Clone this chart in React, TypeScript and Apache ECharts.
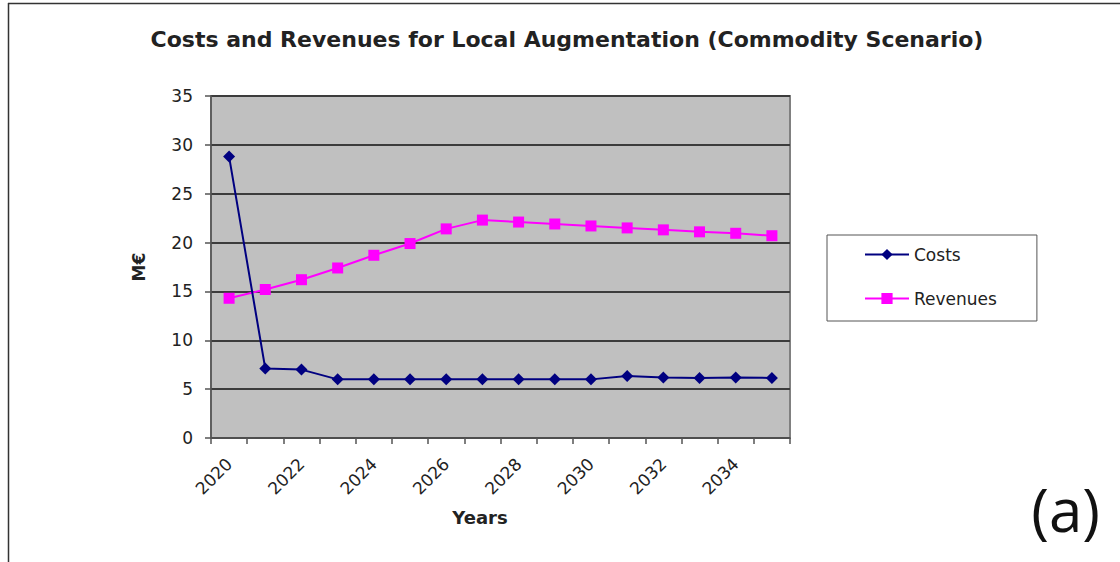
import React, { useEffect, useRef } from "react";
import * as echarts from "echarts";

const years = ["2020","2021","2022","2023","2024","2025","2026","2027","2028","2029","2030","2031","2032","2033","2034","2035"];
const costs = [28.8, 7.1, 7.0, 6.0, 6.0, 6.0, 6.0, 6.0, 6.0, 6.0, 6.0, 6.35, 6.2, 6.15, 6.2, 6.15];
const revenues = [14.3, 15.2, 16.2, 17.4, 18.7, 19.9, 21.4, 22.3, 22.1, 21.9, 21.7, 21.5, 21.3, 21.1, 20.95, 20.7];
const titleText = "Costs and Revenues for Local Augmentation (Commodity Scenario)";

const FONT = "'DejaVu Sans', sans-serif";

export default function App() {
  const ref = useRef<HTMLDivElement>(null);
  useEffect(() => {
    if (!ref.current) return;
    const chart = echarts.init(ref.current, undefined, { renderer: "svg" });
    chart.setOption({
      animation: false,
      backgroundColor: "#ffffff",
      textStyle: { fontFamily: FONT },
      title: {
        text: titleText,
        left: 562,
        top: 23,
        textAlign: "center",
        textStyle: { fontFamily: FONT, fontSize: 22, fontWeight: "bold", color: "#222" },
      },
      grid: {
        left: 211,
        top: 96,
        width: 579,
        height: 342,
        show: true,
        backgroundColor: "#c0c0c0",
        borderColor: "#808080",
        borderWidth: 2,
      },
      legend: {
        orient: "vertical",
        left: 827,
        top: 235,
        padding: [11, 40, 14, 37],
        itemWidth: 44,
        itemHeight: 14,
        itemGap: 27,
        borderColor: "#555",
        borderWidth: 1,
        textStyle: { fontFamily: FONT, fontSize: 17, color: "#222" },
        data: ["Costs", "Revenues"],
      },
      xAxis: {
        type: "category",
        data: years,
        boundaryGap: true,
        axisLine: { lineStyle: { color: "#555", width: 1.5 } },
        axisTick: { show: true, interval: 0, length: 6, lineStyle: { color: "#555", width: 1.5 } },
        axisLabel: {
          interval: 1,
          rotate: 45,
          margin: 23,
          fontFamily: FONT,
          fontSize: 17,
          color: "#222",
        },
        splitLine: { show: false },
      },
      yAxis: {
        type: "value",
        min: 0,
        max: 35,
        interval: 5,
        name: "M€",
        nameLocation: "middle",
        nameGap: 64,
        nameTextStyle: { fontFamily: FONT, fontSize: 17, fontWeight: "bold", color: "#222" },
        axisLine: { show: true, lineStyle: { color: "#555", width: 1.5 } },
        axisTick: { show: true, length: 6, lineStyle: { color: "#555", width: 1.5 } },
        axisLabel: { fontFamily: FONT, fontSize: 17, color: "#222", margin: 18 },
        splitLine: { show: true, lineStyle: { color: "#3c3c3c", width: 2 } },
      },
      series: [
        {
          name: "Costs",
          type: "line",
          data: costs,
          symbol: "diamond",
          symbolSize: 12,
          itemStyle: { color: "#000080" },
          lineStyle: { color: "#000080", width: 2 },
          z: 3,
        },
        {
          name: "Revenues",
          type: "line",
          data: revenues,
          symbol: "rect",
          symbolSize: 11,
          itemStyle: { color: "#ff00ff" },
          lineStyle: { color: "#ff00ff", width: 2 },
          z: 2,
        },
      ],
      graphic: [
        { type: "line", shape: { x1: 8, y1: 3.5, x2: 1120, y2: 3.5 }, style: { stroke: "#333", lineWidth: 1.5 } },
        { type: "line", shape: { x1: 8.5, y1: 3, x2: 8.5, y2: 562 }, style: { stroke: "#333", lineWidth: 1.5 } },
        {
          type: "text",
          x: 480,
          y: 517,
          style: {
            text: "Years",
            fontFamily: FONT,
            fontSize: 18,
            fontWeight: "bold",
            fill: "#222",
            textAlign: "center",
            textVerticalAlign: "middle",
          },
        },
        {
          type: "text",
          x: 1100,
          y: 509,
          style: {
            text: "(a)",
            fontFamily: "'Open Sans', 'DejaVu Sans', sans-serif",
            fontSize: 60,
            fill: "#111",
            textAlign: "right",
            textVerticalAlign: "middle",
          },
        },
      ],
    });
    return () => chart.dispose();
  }, []);
  return (
    <div
      ref={ref}
      style={{ position: "fixed", left: 0, top: 0, width: 1120, height: 562 }}
    />
  );
}
